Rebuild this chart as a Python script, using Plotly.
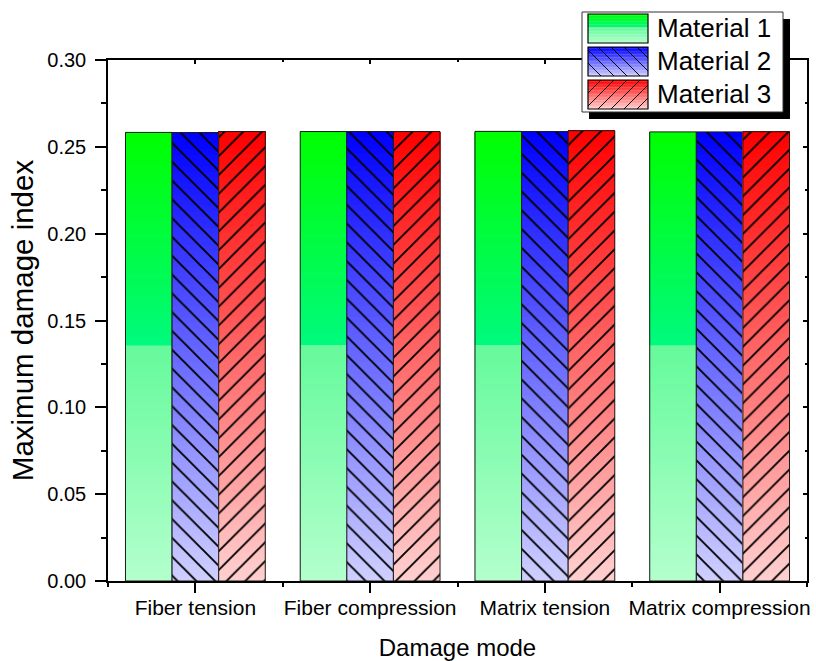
import plotly.graph_objects as go

# ---- data -------------------------------------------------------------
categories = ["Fiber tension", "Fiber compression", "Matrix tension", "Matrix compression"]
series_names = ["Material 1", "Material 2", "Material 3"]
material_1 = [0.2583, 0.2588, 0.2589, 0.2586]
material_2 = [0.2581, 0.2588, 0.2587, 0.2586]
material_3 = [0.2588, 0.2588, 0.2593, 0.2587]
y_ticks = [0.00, 0.05, 0.10, 0.15, 0.20, 0.25, 0.30]

# ---- geometry of the page ---------------------------------------------
W, H = 816, 661
M_L, M_R, M_T, M_B = 108, 9, 60, 80
PW, PH = W - M_L - M_R, H - M_T - M_B
FONT = "Arial, Liberation Sans, sans-serif"


def px(x):
    return (x - M_L) / PW


def py(y):
    return (H - M_B - y) / PH


def lerp(a, b, f):
    return tuple(round(a[i] + (b[i] - a[i]) * f) for i in range(3))


SPLIT = 0.47


def green(t):
    # t = 0 at the top of the bar, 1 at the bottom
    if t < SPLIT:
        return lerp((0, 255, 0), (0, 250, 125), t / SPLIT)
    return lerp((100, 250, 155), (180, 255, 205), (t - SPLIT) / (1 - SPLIT))


def blue(t):
    return lerp((0, 0, 255), (208, 208, 255), t)


def red(t):
    return lerp((255, 0, 0), (255, 208, 208), t)


def rgb(c):
    return "rgb(%d,%d,%d)" % c


series = [
    (series_names[0], material_1, green, ""),
    (series_names[1], material_2, blue, "\\"),
    (series_names[2], material_3, red, "/"),
]

xs = list(range(len(categories)))
N = 80  # number of layers used for the vertical colour gradient

fig = go.Figure()
for name, vals, grad, hatch in series:
    # each layer runs from its own base up to the bar top, so the layers
    # drawn later cover the upper part of the earlier ones without seams
    for k in range(N):
        t = 1 - (k + 0.5) / N
        bases = [v * k / N for v in vals]
        fig.add_bar(
            x=xs, y=[v - b for v, b in zip(vals, bases)], base=bases,
            offsetgroup=name, marker=dict(color=rgb(grad(t)), line=dict(width=0)),
            showlegend=False, hoverinfo="skip",
        )
    fig.add_bar(
        x=xs, y=vals, offsetgroup=name, name=name, showlegend=False,
        marker=dict(
            color="rgba(0,0,0,0)",
            line=dict(color="#1a1a1a", width=1),
            pattern=dict(shape=hatch, fgcolor="black", bgcolor="rgba(0,0,0,0)",
                         fgopacity=1, size=13.3, solidity=0.14, fillmode="overlay"),
        ),
    )

# invisible trace so the mirrored top/right axes are drawn with inward ticks
fig.add_scatter(x=[None], y=[None], xaxis="x2", yaxis="y2", showlegend=False,
                hoverinfo="skip", mode="markers")

axis_common = dict(showgrid=False, zeroline=False, showline=True, linecolor="black",
                   linewidth=1.5, tickcolor="black", tickwidth=1.5, automargin=False)

fig.update_layout(
    width=W, height=H,
    margin=dict(l=M_L, r=M_R, t=M_T, b=M_B),
    paper_bgcolor="white", plot_bgcolor="white",
    barmode="group", bargap=0.2, bargroupgap=0,
    font=dict(family=FONT, color="black"),
    xaxis=dict(
        **axis_common, range=[-0.5, len(categories) - 0.5],
        tickmode="array", tickvals=xs, ticktext=categories,
        ticks="outside", ticklen=10, tickfont=dict(size=21), ticklabelstandoff=-3,
        minor=dict(tickmode="linear", tick0=-0.5, dtick=1, ticks="outside",
                   ticklen=4, tickcolor="black", tickwidth=1.5),
        title=dict(text="Damage mode", font=dict(size=24), standoff=24),
    ),
    yaxis=dict(
        **axis_common, range=[0, 0.30],
        tickmode="array", tickvals=y_ticks, tickformat=".2f",
        ticks="outside", ticklen=11, tickfont=dict(size=20), ticklabelstandoff=5,
        minor=dict(tickmode="linear", tick0=0, dtick=0.025, ticks="outside",
                   ticklen=5, tickcolor="black", tickwidth=1.5),
        title=dict(text="Maximum damage index", font=dict(size=29.5), standoff=5),
    ),
    xaxis2=dict(
        **axis_common, overlaying="x", side="top", range=[-0.5, len(categories) - 0.5],
        tickmode="array", tickvals=xs, ticks="inside", ticklen=4, showticklabels=False,
        minor=dict(tickmode="linear", tick0=-0.5, dtick=1, ticks="inside",
                   ticklen=2, tickcolor="black", tickwidth=1.5),
    ),
    yaxis2=dict(
        **axis_common, overlaying="y", side="right", range=[0, 0.30],
        tickmode="array", tickvals=y_ticks, ticks="inside", ticklen=4, showticklabels=False,
        minor=dict(tickmode="linear", tick0=0, dtick=0.025, ticks="inside",
                   ticklen=2, tickcolor="black", tickwidth=1.5),
    ),
)

# ---- legend box with shadow, gradient swatches and hatching ------------
shapes = []
annotations = []


def rect(x0, y0, x1, y1, **kw):
    shapes.append(dict(type="rect", xref="paper", yref="paper", layer="above",
                       x0=px(x0), x1=px(x1), y0=py(y1), y1=py(y0), **kw))


def seg(x0, y0, x1, y1):
    shapes.append(dict(type="line", xref="paper", yref="paper", layer="above",
                       x0=px(x0), y0=py(y0), x1=px(x1), y1=py(y1),
                       line=dict(color="black", width=1)))


def hatch_lines(x0, y0, x1, y1, kind, step=13.0):
    w, h = x1 - x0, y1 - y0
    c = -h
    while c < w:
        pts = []
        for s in (0, h):
            xx = x0 + c + s
            yy = (y1 - s) if kind == "/" else (y0 + s)
            pts.append((xx, yy))
        (ax, ay), (bx, by) = pts
        if ax < x0:
            f = (x0 - ax) / (bx - ax)
            ax, ay = x0, ay + (by - ay) * f
        if bx > x1:
            f = (bx - x1) / (bx - ax)
            bx, by = x1, by - (by - ay) * f
        if bx > ax:
            seg(ax, ay, bx, by)
        c += step


LX0, LY0, LX1, LY1 = 582, 12, 783, 112
rect(LX0 + 7, LY0 + 7, LX1 + 7, LY1 + 7, fillcolor="black", line=dict(width=0))
rect(LX0, LY0, LX1, LY1, fillcolor="white", line=dict(color="#333", width=1))

rows = [(14, 43), (47, 76), (80, 109)]
SX0, SX1 = 588, 648
n_strips = 20
for (name, vals, grad, hatch), (ry0, ry1) in zip(series, rows):
    hstep = (ry1 - ry0) / n_strips
    for k in range(n_strips):
        t = (k + 0.5) / n_strips
        rect(SX0, ry0 + k * hstep, SX1, ry0 + (k + 1) * hstep + 0.3,
             fillcolor=rgb(grad(t)), line=dict(width=0))
    if hatch:
        hatch_lines(SX0, ry0, SX1, ry1, hatch)
    rect(SX0, ry0, SX1, ry1, fillcolor="rgba(0,0,0,0)", line=dict(color="black", width=1.2))
    annotations.append(dict(text=name, xref="paper", yref="paper", x=px(655),
                            y=py((ry0 + ry1) / 2), xanchor="left", yanchor="middle",
                            showarrow=False, font=dict(size=26, family=FONT, color="black")))

fig.update_layout(shapes=shapes, annotations=annotations)

fig.write_html("out.html")
